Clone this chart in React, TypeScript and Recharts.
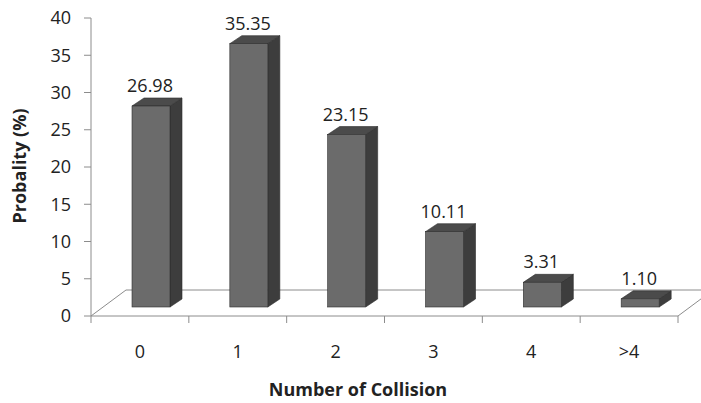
import { BarChart, Bar, XAxis, YAxis, LabelList, Customized } from 'recharts';

// valeurs
const categories = ['0', '1', '2', '3', '4', '>4'];
const probabilities = [26.98, 35.35, 23.15, 10.11, 3.31, 1.1];
const valueLabels = ['26.98', '35.35', '23.15', '10.11', '3.31', '1.10'];
const yTicks = [0, 5, 10, 15, 20, 25, 30, 35, 40];

const data = categories.map((c, i) => ({ category: c, value: probabilities[i], label: valueLabels[i] }));

// mise en page
const W = 701;
const H = 403;
const LEFT = 91;
const RIGHT = 678;
const TOP = 18;
const BOTTOM = 316;
const BAND = (RIGHT - LEFT) / categories.length;

// effet 3D
const SHIFT_X = 11;
const SHIFT_Y = -9;
const DEPTH_X = 12;
const DEPTH_Y = -8;
const FLOOR_X = 35;
const FLOOR_Y = -26;

const AXIS = '#8c8c8c';
const TEXT = '#222';
const FONT = '"Open Sans", "Liberation Sans", sans-serif';

const Box3D = (props: any) => {
  const { x, y, width, height } = props;
  const fx = x + SHIFT_X;
  const fy = y + SHIFT_Y;
  const top = `${fx},${fy} ${fx + DEPTH_X},${fy + DEPTH_Y} ${fx + width + DEPTH_X},${fy + DEPTH_Y} ${fx + width},${fy}`;
  const side = `${fx + width},${fy} ${fx + width + DEPTH_X},${fy + DEPTH_Y} ${fx + width + DEPTH_X},${fy + height + DEPTH_Y} ${fx + width},${fy + height}`;
  return (
    <g stroke="#2e2e2e" strokeWidth={0.6}>
      <polygon points={side} fill="#3d3d3d" />
      <polygon points={top} fill="#4b4b4b" />
      <rect x={fx} y={fy} width={width} height={height} fill="#6b6b6b" />
    </g>
  );
};

// plancher en perspective
const Floor = () => (
  <polyline
    points={`${LEFT},${BOTTOM} ${LEFT + FLOOR_X},${BOTTOM + FLOOR_Y} ${RIGHT + FLOOR_X},${BOTTOM + FLOOR_Y} ${RIGHT},${BOTTOM}`}
    fill="none"
    stroke={AXIS}
    strokeWidth={1}
  />
);

const CategoryTick = (props: any) => {
  const { x, index, payload } = props;
  const last = index === categories.length - 1;
  return (
    <g>
      <line x1={x - BAND / 2} y1={BOTTOM} x2={x - BAND / 2} y2={BOTTOM + 7} stroke={AXIS} />
      {last && <line x1={x + BAND / 2} y1={BOTTOM} x2={x + BAND / 2} y2={BOTTOM + 7} stroke={AXIS} />}
      <text x={x} y={BOTTOM + 42} textAnchor="middle" fill={TEXT} fontSize={18} fontFamily={FONT}>
        {payload.value}
      </text>
    </g>
  );
};

const ValueLabel = (props: any) => {
  const { x, y, width, value } = props;
  return (
    <text
      x={x + SHIFT_X + width / 2 - 1}
      y={y + SHIFT_Y + DEPTH_Y - 6}
      textAnchor="middle"
      fill={TEXT}
      fontSize={18}
      fontFamily={FONT}
    >
      {value}
    </text>
  );
};

export default function App() {
  return (
    <div style={{ position: 'absolute', left: 0, top: 0, background: '#fff' }}>
      <BarChart
        width={W}
        height={H}
        data={data}
        margin={{ top: TOP, right: W - RIGHT, bottom: 0, left: 0 }}
        barSize={38}
      >
        <Customized component={Floor} />
        <XAxis
          dataKey="category"
          height={H - BOTTOM}
          axisLine={{ stroke: AXIS }}
          tickLine={false}
          tickSize={0}
          tickMargin={0}
          tick={<CategoryTick />}
          interval={0}
          label={{
            content: () => (
              <text x={358} y={396} textAnchor="middle" fill={TEXT} fontSize={18} fontWeight="bold" fontFamily={FONT}>
                Number of Collision
              </text>
            ),
          }}
        />
        <YAxis
          width={LEFT}
          domain={[0, 40]}
          ticks={yTicks}
          interval={0}
          axisLine={{ stroke: AXIS }}
          tickLine={{ stroke: AXIS }}
          tickSize={7}
          tickMargin={13}
          tick={{ fill: TEXT, fontSize: 18, fontFamily: FONT }}
          label={{
            content: () => (
              <text
                x={26}
                y={166}
                transform="rotate(-90 26 166)"
                textAnchor="middle"
                fill={TEXT}
                fontSize={18}
                fontWeight="bold"
                fontFamily={FONT}
              >
                Probality (%)
              </text>
            ),
          }}
        />
        <Bar dataKey="value" shape={<Box3D />} isAnimationActive={false}>
          <LabelList dataKey="label" content={<ValueLabel />} />
        </Bar>
      </BarChart>
    </div>
  );
}
